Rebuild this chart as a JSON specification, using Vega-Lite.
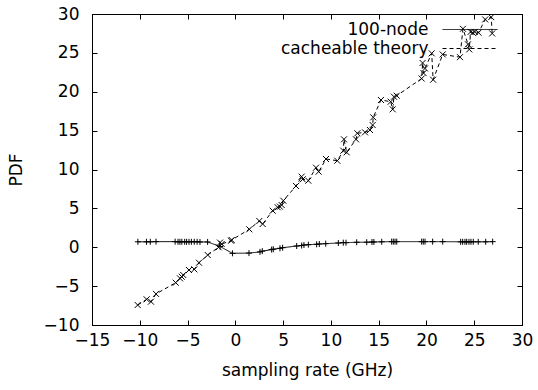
{
  "$schema": "https://vega.github.io/schema/vega-lite/v6.json",
  "width": 430,
  "height": 311,
  "autosize": {"type": "none"},
  "padding": {"left": 92, "top": 14, "right": 16, "bottom": 65},
  "background": "white",
  "config": {
    "view": {"stroke": "black", "strokeWidth": 1},
    "font": "DejaVu Sans",
    "axis": {
      "grid": false,
      "domainColor": "black",
      "domainWidth": 1,
      "tickColor": "black",
      "tickWidth": 1,
      "tickSize": -5,
      "labelColor": "black",
      "titleColor": "black",
      "labelFont": "DejaVu Sans",
      "titleFont": "DejaVu Sans",
      "labelFontSize": 17,
      "titleFontSize": 17,
      "titleFontWeight": "normal",
      "labelFlush": false,
      "labelOverlap": false
    },
    "legend": {"labelFont": "DejaVu Sans", "labelFontSize": 17, "labelColor": "black"}
  },
  "data": {
    "values": [
      {"s": "100-node", "x": -10.2, "y": 0.7},
      {"s": "100-node", "x": -9.3, "y": 0.7},
      {"s": "100-node", "x": -8.9, "y": 0.7},
      {"s": "100-node", "x": -8.3, "y": 0.72},
      {"s": "100-node", "x": -6.3, "y": 0.72},
      {"s": "100-node", "x": -6.0, "y": 0.7},
      {"s": "100-node", "x": -5.8, "y": 0.7},
      {"s": "100-node", "x": -5.6, "y": 0.7},
      {"s": "100-node", "x": -5.3, "y": 0.7},
      {"s": "100-node", "x": -5.1, "y": 0.7},
      {"s": "100-node", "x": -4.85, "y": 0.7},
      {"s": "100-node", "x": -4.6, "y": 0.7},
      {"s": "100-node", "x": -4.3, "y": 0.7},
      {"s": "100-node", "x": -4.0, "y": 0.7},
      {"s": "100-node", "x": -3.7, "y": 0.68},
      {"s": "100-node", "x": -2.9, "y": 0.68},
      {"s": "100-node", "x": -1.6, "y": 0.1},
      {"s": "100-node", "x": -0.3, "y": -0.78},
      {"s": "100-node", "x": 1.43, "y": -0.75},
      {"s": "100-node", "x": 2.58, "y": -0.6},
      {"s": "100-node", "x": 2.82, "y": -0.5},
      {"s": "100-node", "x": 3.8, "y": -0.3},
      {"s": "100-node", "x": 3.97, "y": -0.25},
      {"s": "100-node", "x": 4.67, "y": -0.14},
      {"s": "100-node", "x": 4.95, "y": -0.06},
      {"s": "100-node", "x": 6.42, "y": 0.16},
      {"s": "100-node", "x": 6.94, "y": 0.22},
      {"s": "100-node", "x": 7.18, "y": 0.29},
      {"s": "100-node", "x": 7.64, "y": 0.33},
      {"s": "100-node", "x": 8.51, "y": 0.38},
      {"s": "100-node", "x": 8.79, "y": 0.42},
      {"s": "100-node", "x": 9.46, "y": 0.46},
      {"s": "100-node", "x": 10.78, "y": 0.55},
      {"s": "100-node", "x": 11.3, "y": 0.59},
      {"s": "100-node", "x": 11.58, "y": 0.59},
      {"s": "100-node", "x": 12.7, "y": 0.64},
      {"s": "100-node", "x": 13.75, "y": 0.65},
      {"s": "100-node", "x": 14.3, "y": 0.67},
      {"s": "100-node", "x": 14.5, "y": 0.68},
      {"s": "100-node", "x": 15.32, "y": 0.7},
      {"s": "100-node", "x": 16.36, "y": 0.72},
      {"s": "100-node", "x": 16.53, "y": 0.72},
      {"s": "100-node", "x": 16.71, "y": 0.72},
      {"s": "100-node", "x": 16.89, "y": 0.72},
      {"s": "100-node", "x": 19.5, "y": 0.72},
      {"s": "100-node", "x": 19.67, "y": 0.72},
      {"s": "100-node", "x": 19.85, "y": 0.72},
      {"s": "100-node", "x": 20.65, "y": 0.72},
      {"s": "100-node", "x": 21.7, "y": 0.72},
      {"s": "100-node", "x": 23.58, "y": 0.7},
      {"s": "100-node", "x": 23.79, "y": 0.7},
      {"s": "100-node", "x": 24.03, "y": 0.7},
      {"s": "100-node", "x": 24.21, "y": 0.7},
      {"s": "100-node", "x": 24.45, "y": 0.7},
      {"s": "100-node", "x": 24.66, "y": 0.7},
      {"s": "100-node", "x": 24.9, "y": 0.7},
      {"s": "100-node", "x": 25.42, "y": 0.7},
      {"s": "100-node", "x": 26.2, "y": 0.7},
      {"s": "100-node", "x": 26.93, "y": 0.72},
      {"s": "cacheable theory", "x": -10.22, "y": -7.43},
      {"s": "cacheable theory", "x": -9.28, "y": -6.7},
      {"s": "cacheable theory", "x": -8.83, "y": -7.0},
      {"s": "cacheable theory", "x": -8.3, "y": -6.0},
      {"s": "cacheable theory", "x": -6.24, "y": -4.56},
      {"s": "cacheable theory", "x": -5.79, "y": -4.0},
      {"s": "cacheable theory", "x": -5.61, "y": -3.79},
      {"s": "cacheable theory", "x": -5.45, "y": -3.57},
      {"s": "cacheable theory", "x": -4.85, "y": -2.93},
      {"s": "cacheable theory", "x": -4.29, "y": -2.84},
      {"s": "cacheable theory", "x": -3.8, "y": -1.99},
      {"s": "cacheable theory", "x": -2.89, "y": -1.0},
      {"s": "cacheable theory", "x": -1.75, "y": 0.0},
      {"s": "cacheable theory", "x": -1.6, "y": 0.6},
      {"s": "cacheable theory", "x": -1.43, "y": 0.42},
      {"s": "cacheable theory", "x": -0.45, "y": 0.84},
      {"s": "cacheable theory", "x": -0.38, "y": 0.93},
      {"s": "cacheable theory", "x": 1.46, "y": 2.31},
      {"s": "cacheable theory", "x": 2.51, "y": 3.38},
      {"s": "cacheable theory", "x": 2.86, "y": 2.99},
      {"s": "cacheable theory", "x": 3.91, "y": 4.7},
      {"s": "cacheable theory", "x": 4.43, "y": 5.14},
      {"s": "cacheable theory", "x": 4.67, "y": 5.22},
      {"s": "cacheable theory", "x": 4.85, "y": 5.43},
      {"s": "cacheable theory", "x": 5.02, "y": 5.99},
      {"s": "cacheable theory", "x": 6.35, "y": 7.88},
      {"s": "cacheable theory", "x": 6.94, "y": 9.08},
      {"s": "cacheable theory", "x": 7.05, "y": 8.74},
      {"s": "cacheable theory", "x": 7.64, "y": 8.56},
      {"s": "cacheable theory", "x": 8.44, "y": 10.23},
      {"s": "cacheable theory", "x": 8.72, "y": 9.72},
      {"s": "cacheable theory", "x": 9.49, "y": 11.35},
      {"s": "cacheable theory", "x": 10.67, "y": 11.13},
      {"s": "cacheable theory", "x": 11.3, "y": 12.42},
      {"s": "cacheable theory", "x": 11.37, "y": 13.88},
      {"s": "cacheable theory", "x": 11.65, "y": 12.21},
      {"s": "cacheable theory", "x": 12.63, "y": 13.88},
      {"s": "cacheable theory", "x": 12.77, "y": 14.66},
      {"s": "cacheable theory", "x": 13.57, "y": 14.78},
      {"s": "cacheable theory", "x": 14.09, "y": 15.08},
      {"s": "cacheable theory", "x": 14.37, "y": 15.72},
      {"s": "cacheable theory", "x": 14.43, "y": 16.71},
      {"s": "cacheable theory", "x": 15.24, "y": 18.94},
      {"s": "cacheable theory", "x": 16.26, "y": 18.72},
      {"s": "cacheable theory", "x": 16.47, "y": 17.74},
      {"s": "cacheable theory", "x": 16.6, "y": 19.36},
      {"s": "cacheable theory", "x": 16.89, "y": 19.49},
      {"s": "cacheable theory", "x": 19.5, "y": 21.7},
      {"s": "cacheable theory", "x": 19.6, "y": 23.7},
      {"s": "cacheable theory", "x": 19.7, "y": 22.4},
      {"s": "cacheable theory", "x": 19.85, "y": 23.0},
      {"s": "cacheable theory", "x": 20.55, "y": 24.94},
      {"s": "cacheable theory", "x": 20.7, "y": 21.55},
      {"s": "cacheable theory", "x": 21.7, "y": 24.8},
      {"s": "cacheable theory", "x": 23.51, "y": 24.45},
      {"s": "cacheable theory", "x": 23.82, "y": 28.1},
      {"s": "cacheable theory", "x": 24.35, "y": 26.1},
      {"s": "cacheable theory", "x": 24.48, "y": 25.45},
      {"s": "cacheable theory", "x": 24.62, "y": 27.7},
      {"s": "cacheable theory", "x": 24.85, "y": 27.6},
      {"s": "cacheable theory", "x": 25.05, "y": 27.7},
      {"s": "cacheable theory", "x": 25.45, "y": 27.6},
      {"s": "cacheable theory", "x": 26.15, "y": 29.3},
      {"s": "cacheable theory", "x": 26.78, "y": 29.6},
      {"s": "cacheable theory", "x": 26.88, "y": 27.5}
    ]
  },
  "resolve": {"axis": {"x": "independent", "y": "independent"}},
  "layer": [
    {
      "mark": {"type": "line", "color": "black", "strokeWidth": 1},
      "encoding": {
        "x": {"field": "x", "type": "quantitative",
          "scale": {"domain": [-15, 30], "nice": false, "zero": false},
          "axis": {"orient": "bottom", "values": [-15, -10, -5, 0, 5, 10, 15, 20, 25, 30], "title": "sampling rate (GHz)", "labelPadding": 12, "titlePadding": 14}},
        "y": {"field": "y", "type": "quantitative",
          "scale": {"domain": [-10, 30], "nice": false, "zero": false},
          "axis": {"orient": "left", "values": [-10, -5, 0, 5, 10, 15, 20, 25, 30], "title": "PDF", "labelPadding": 18, "titlePadding": 18}},
        "strokeDash": {"field": "s", "type": "nominal",
          "scale": {"domain": ["100-node", "cacheable theory"], "range": [[1, 0], [4, 3]]},
          "legend": {"title": null, "orient": "none", "legendX": 367.5, "legendY": 5, "padding": 0,
            "symbolType": "M-2.75,0L2.75,0", "symbolSize": 400, "symbolStrokeColor": "black", "symbolStrokeWidth": 1, "symbolFillColor": "transparent",
            "labelAlign": "right", "labelOffset": -52, "rowPadding": 0}}
      }
    },
    {
      "transform": [{"filter": "datum.s === '100-node'"}],
      "mark": {"type": "point", "shape": "M-1,0L1,0M0,-1L0,1", "filled": false, "stroke": "black", "strokeWidth": 1, "size": 36, "opacity": 1},
      "encoding": {
        "x": {"field": "x", "type": "quantitative", "axis": null},
        "y": {"field": "y", "type": "quantitative", "axis": null}
      }
    },
    {
      "transform": [{"filter": "datum.s === 'cacheable theory'"}],
      "mark": {"type": "point", "shape": "M-1,-1L1,1M-1,1L1,-1", "filled": false, "stroke": "black", "strokeWidth": 1, "size": 36, "opacity": 1},
      "encoding": {
        "x": {"field": "x", "type": "quantitative", "axis": null},
        "y": {"field": "y", "type": "quantitative", "axis": null}
      }
    },
    {
      "mark": {"type": "point", "opacity": 0},
      "encoding": {
        "x": {"field": "x", "type": "quantitative",
          "axis": {"orient": "top", "values": [-15, -10, -5, 0, 5, 10, 15, 20, 25, 30], "labels": false, "title": null}},
        "y": {"field": "y", "type": "quantitative",
          "axis": {"orient": "right", "values": [-10, -5, 0, 5, 10, 15, 20, 25, 30], "labels": false, "title": null}}
      }
    }
  ]
}
